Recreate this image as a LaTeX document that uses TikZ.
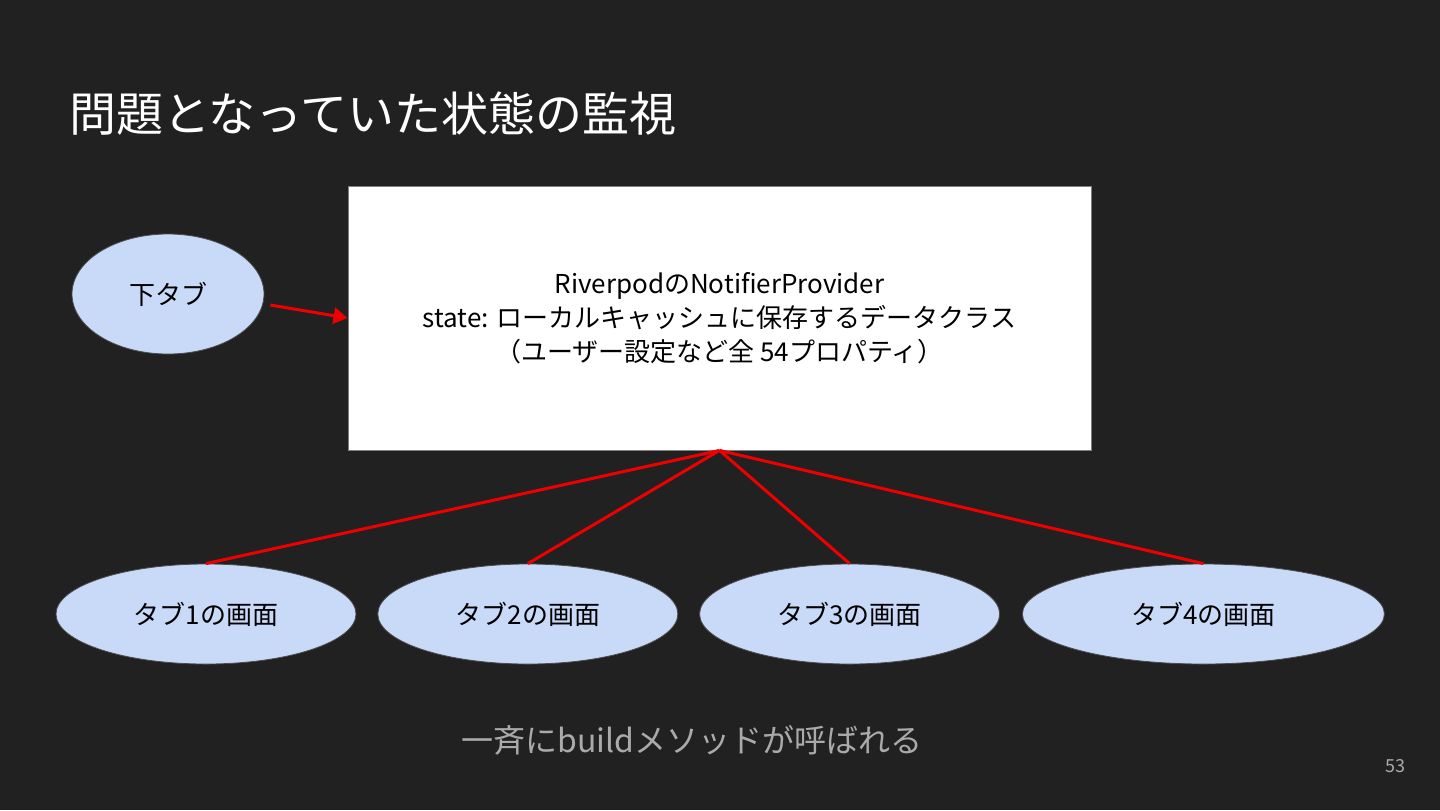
\documentclass[tikz,border=0pt]{standalone}
\usepackage{fontspec}
\setmainfont{Noto Sans CJK JP}
\usetikzlibrary{arrows.meta,positioning,shapes.geometric}

\definecolor{slidebg}{HTML}{212121}
\definecolor{tabblue}{HTML}{C9DAF8}
\definecolor{lineRed}{HTML}{EE0000}
\definecolor{noteGray}{HTML}{AAAAAA}

\begin{document}
\begin{tikzpicture}[
    x=0.5pt, y=-0.5pt,
    node distance=10.5pt, % gap between the tab screens
    >=Triangle,
    tabnode/.style={
        ellipse,
        draw=black!70,
        fill=tabblue,
        inner sep=0pt,
        minimum width=150pt,
        minimum height=50pt,
        font=\fontsize{13}{16}\selectfont
    },
    storebox/.style={
        draw=gray,
        fill=white,
        minimum width=371.5pt,
        minimum height=132pt,
        align=center,
        font=\fontsize{13}{17}\selectfont
    },
    watchline/.style={draw=lineRed, line width=1.5pt},
    arrow/.style={->, draw=lineRed, fill=lineRed, line width=1.5pt}
]

% background and page size
\fill[slidebg] (0,0) rectangle (1440,810);
\useasboundingbox (0,0) rectangle (1440,810);

% --- NODES ---
\node[anchor=west, text=white, font=\fontsize{23.5}{28}\selectfont] (title) at (62,114)
{問題となっていた状態の監視};

\node[storebox] (store) at (719.5,318)
{RiverpodのNotifierProvider\\
state: ローカルキャッシュに保存するデータクラス\\
（ユーザー設定など全 54プロパティ）};

\node[tabnode, minimum width=96pt, minimum height=60pt] (subtab) at (168,294) {下タブ};

% Tab screens (placed one after another)
\node[tabnode] (tab1) at (206,614) {タブ1の画面};
\node[tabnode, right=of tab1] (tab2) {タブ2の画面};
\node[tabnode, right=of tab2] (tab3) {タブ3の画面};
\node[tabnode, right=11pt of tab3, minimum width=181pt] (tab4) {タブ4の画面};

\node[text=noteGray, font=\fontsize{16}{20}\selectfont] (note) at (692,740)
{一斉にbuildメソッドが呼ばれる};

\node[text=noteGray, font=\fontsize{9}{11}\selectfont] (pageno) at (1395,766) {53};

% --- CONNECTIONS ---
\draw[arrow] ([xshift=3pt,yshift=-5.5pt]subtab.east) -- (store.west);

\foreach \t in {tab1,tab2,tab3,tab4}
    \draw[watchline] (store.south) -- (\t.north);

\end{tikzpicture}
\end{document}
